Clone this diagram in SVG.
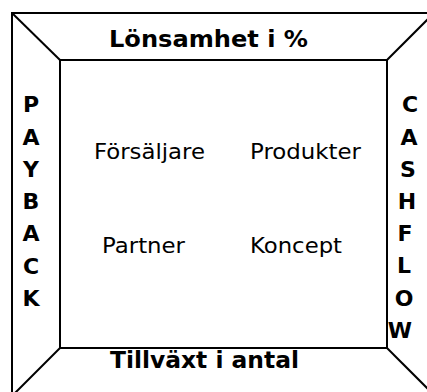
<svg xmlns="http://www.w3.org/2000/svg" width="427" height="392" viewBox="0 0 427 392">
<style>
.ln{fill:none;stroke:#000;stroke-width:2}
.t{font-family:"DejaVu Sans","Liberation Sans",sans-serif;fill:#000}
.b{font-weight:bold;font-size:23px}
.r{font-size:21px}
.v{font-weight:bold;font-size:22px;text-anchor:middle}
</style>
<rect width="427" height="392" fill="#fff"/>
<g id="frame">
<rect class="ln" x="12" y="13" width="430" height="390"/>
<rect class="ln" x="60" y="60" width="327" height="288"/>
</g>
<g id="connectors">
<line class="ln" x1="12" y1="13" x2="60" y2="60"/>
<line class="ln" x1="387" y1="60" x2="434" y2="13"/>
<line class="ln" x1="60" y1="348" x2="12" y2="396"/>
<line class="ln" x1="387" y1="348" x2="431" y2="392"/>
</g>
<g id="top"><text class="t b" x="109" y="47" textLength="199" lengthAdjust="spacingAndGlyphs">Lönsamhet i %</text></g>
<g id="bottom"><text class="t b" x="110" y="368" textLength="189" lengthAdjust="spacingAndGlyphs">Tillväxt i antal</text></g>
<g id="forsaljare"><text class="t r" x="94" y="159" textLength="111" lengthAdjust="spacingAndGlyphs">Försäljare</text></g>
<g id="produkter"><text class="t r" x="250" y="159" textLength="111" lengthAdjust="spacingAndGlyphs">Produkter</text></g>
<g id="partner"><text class="t r" x="102" y="253" textLength="83" lengthAdjust="spacingAndGlyphs">Partner</text></g>
<g id="koncept"><text class="t r" x="250" y="253" textLength="92" lengthAdjust="spacingAndGlyphs">Koncept</text></g>
<g id="payback">
<text class="t v" x="31" y="112">P</text>
<text class="t v" x="31" y="145">A</text>
<text class="t v" x="31" y="177">Y</text>
<text class="t v" x="31" y="209">B</text>
<text class="t v" x="31" y="241">A</text>
<text class="t v" x="31" y="274">C</text>
<text class="t v" x="31" y="306">K</text>
</g>
<g id="cashflow">
<text class="t v" x="410" y="112">C</text>
<text class="t v" x="409" y="145">A</text>
<text class="t v" x="408" y="177">S</text>
<text class="t v" x="407" y="209">H</text>
<text class="t v" x="405" y="241">F</text>
<text class="t v" x="404" y="273">L</text>
<text class="t v" x="404" y="306">O</text>
<text class="t v" x="400" y="338">W</text>
</g>
</svg>
